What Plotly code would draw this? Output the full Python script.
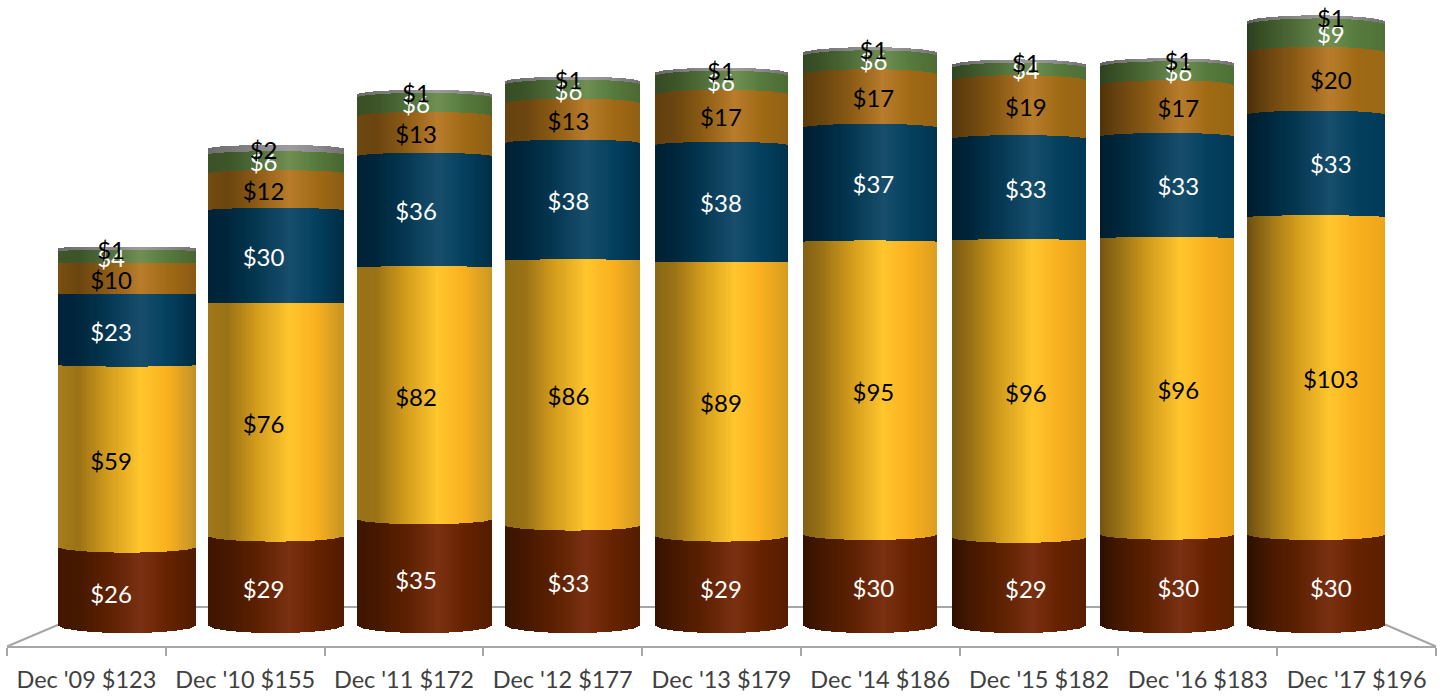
import math
import plotly.graph_objects as go

# ---- data (labels show them rounded) -------------------------------------
categories = ["Dec '09 $123", "Dec '10 $155", "Dec '11 $172", "Dec '12 $177", "Dec '13 $179",
              "Dec '14 $186", "Dec '15 $182", "Dec '16 $183", "Dec '17 $196"]
series_a = [25.5, 29, 34.5, 32.5, 29, 29.5, 28.6, 29.6, 29.5]
series_b = [59, 75.8, 81.8, 86, 88.8, 95, 96.3, 96, 103]
series_c = [23, 30, 36, 38, 38, 37, 33, 33, 33.2]
series_d = [10, 12, 13, 13, 16.5, 17.3, 19, 16.7, 20.2]
series_e = [4, 6, 6, 6, 6, 6, 4, 6, 9]
series_f = [1, 2, 1, 1, 1, 1, 1, 1, 1]
all_series = [series_a, series_b, series_c, series_d, series_e, series_f]
text_colors = ["white", "black", "white", "black", "white", "black"]

# ---- shading: (left first col, left last col, .15, .35, peak, .8, right first col, right last col)
shades = [
    ("#421600", "#2a0e00", "#461800", "#5a2000", "#7a3012", "#662200", "#4f1a00", "#5c1f00"),
    ("#a87e1c", "#6b4f10", "#9a7216", "#d09a1c", "#ffc62d", "#f9b01f", "#bf9226", "#eda61a"),
    ("#00233a", "#001c2c", "#00263c", "#043650", "#174e6c", "#04405e", "#002a42", "#003a58"),
    ("#7a5012", "#4a2f08", "#6a4510", "#8a5a14", "#b87c2c", "#a06a14", "#8a5a14", "#9a6814"),
    ("#3f5629", "#2a3f1e", "#3c5428", "#4e6c38", "#6f8e52", "#567a3e", "#48652f", "#4f7238"),
    ("#6e6e6e", "#5e5e5e", "#767676", "#868686", "#9c9c9c", "#8a8a8a", "#727272", "#727272"),
]
stop_t = [0, .15, .35, .6, .8, 1]


def rgb(h):
    return [int(h[k:k + 2], 16) for k in (1, 3, 5)]


def mix(a, b, f):
    return [a[k] + (b[k] - a[k]) * f for k in range(3)]


def shade(s, t, col):
    f = col / 8
    st = s
    cols = [mix(rgb(st[0]), rgb(st[1]), f)] + [rgb(c) for c in st[2:6]] + [mix(rgb(st[6]), rgb(st[7]), f)]
    for j in range(5):
        if t <= stop_t[j + 1]:
            c = mix(cols[j], cols[j + 1], (t - stop_t[j]) / (stop_t[j + 1] - stop_t[j]))
            break
    return "rgb(%d,%d,%d)" % tuple(round(v) for v in c)


# ---- geometry of the cylinder look ------------------------------------
px_per_col = 148.6
px_per_unit = 3.153
col_px = [138, 136, 135, 135, 133, 134, 134, 134, 138]
N = 66
lift = 2.537      # how far the rim sits above the front of the floor ellipse
flat = 0.9759     # vertical scale at the rim relative to the front
label_drop = 4.5 / px_per_unit


fig = go.Figure()
for si, vals in enumerate(all_series):
    xs, bases, heights, widths, colors = [], [], [], [], []
    for i in range(len(categories)):
        w = col_px[i] / px_per_col
        below = sum(all_series[k][i] for k in range(si))
        for n in range(N):
            t = (n + .5) / N
            u = 2 * t - 1
            s = math.sqrt(max(0, 1 - u * u))
            f = flat + (1 - flat) * s
            xs.append(i + (t - .5) * w)
            widths.append(w / N)
            bases.append(lift * (1 - s) + below * f)
            heights.append(vals[i] * f)
            colors.append(shade(shades[si], t, i))
    fig.add_trace(go.Bar(x=xs, y=heights, base=bases, width=widths,
                         marker=dict(color=colors, line=dict(width=0)),
                         hoverinfo="skip", showlegend=False))

# value labels, which spread slightly wider than the columns
for si, vals in enumerate(all_series):
    lx = [4 + (i - 4) * 1.026 - 0.003 for i in range(len(categories))]
    ly = [sum(all_series[k][i] for k in range(si)) + vals[i] / 2 - label_drop for i in range(len(categories))]
    fig.add_trace(go.Scatter(x=lx, y=ly, mode="text", text=["$%d" % int(v + .5) for v in vals],
                             textposition="middle center",
                             textfont=dict(family="Lato", size=24, color=text_colors[si]),
                             hoverinfo="skip", showlegend=False, cliponaxis=False))

# carrier for the category axis
fig.add_trace(go.Scatter(x=categories, y=[0] * len(categories), xaxis="x2", mode="markers",
                         marker=dict(opacity=0), hoverinfo="skip", showlegend=False))

W, H = 1447, 696
FLOOR = "#a6a6a6"
shapes = []
for x0, y0, x1, y1 in [(7, 646.5, 60, 624), (1436, 646.5, 1384, 624), (60, 607, 1384, 607)]:
    shapes.append(dict(type="line", xref="paper", yref="paper", x0=x0 / W, x1=x1 / W,
                       y0=1 - y0 / H, y1=1 - y1 / H, line=dict(color=FLOOR, width=2), layer="below"))

fig.update_layout(
    width=W, height=H, autosize=False,
    margin=dict(l=0, r=0, t=0, b=0, pad=0),
    paper_bgcolor="white", plot_bgcolor="rgba(0,0,0,0)",
    barmode="overlay", bargap=0,
    shapes=shapes,
    xaxis=dict(range=[-127 / px_per_col, (W - 127) / px_per_col], visible=False, domain=[0, 1], fixedrange=True),
    yaxis=dict(range=[-(H - 633) / px_per_unit, 633 / px_per_unit], visible=False, domain=[0, 1], fixedrange=True),
    xaxis2=dict(type="category", categoryorder="array", categoryarray=categories,
                domain=[7 / W, 1436 / W], range=[-0.5, 8.5],
                anchor="free", position=1 - 646.5 / H,
                showgrid=False, zeroline=False, showline=True, linecolor=FLOOR, linewidth=2,
                ticks="outside", tickson="boundaries", ticklen=8, tickwidth=2, tickcolor=FLOOR,
                ticklabelstandoff=12,
                tickangle=0, tickfont=dict(family="Lato", size=23.5, color="#404040"), fixedrange=True),
)
fig.write_html("out.html", config={"displayModeBar": False},
               post_script="document.body.style.margin='0';document.body.style.overflow='hidden';")
